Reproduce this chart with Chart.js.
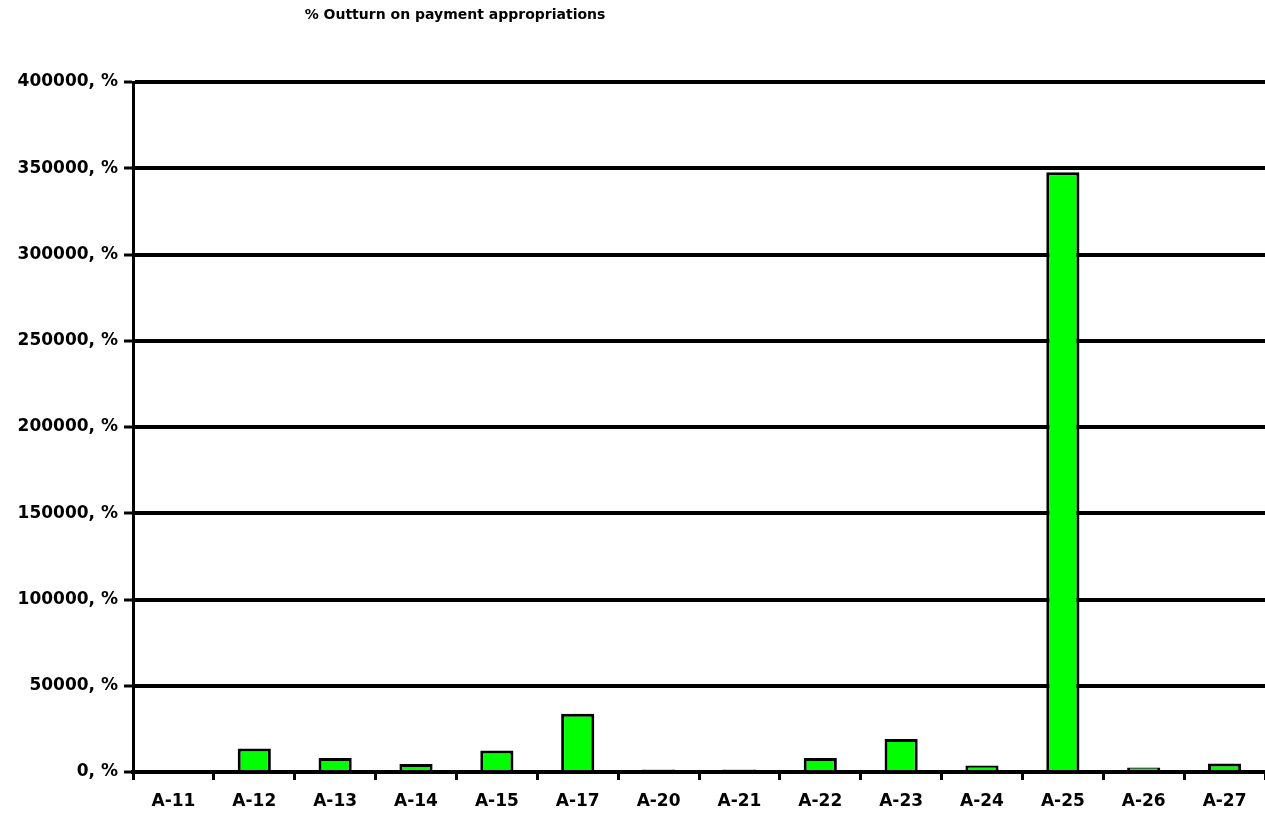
<!DOCTYPE html>
<html>
<head>
<meta charset="utf-8">
<script src="https://cdn.jsdelivr.net/npm/chart.js@4.4.0/dist/chart.umd.min.js"></script>
<style>
  html, body { margin: 0; padding: 0; background: #fff; overflow: hidden; }
  #wrap { width: 1265px; height: 824px; position: relative; }
</style>
</head>
<body>
<div id="wrap"><canvas id="c"></canvas></div>
<script>
// Budget lines and their outturn on payment appropriations (%)
const categories = ['A-11', 'A-12', 'A-13', 'A-14', 'A-15', 'A-17', 'A-20', 'A-21', 'A-22', 'A-23', 'A-24', 'A-25', 'A-26', 'A-27'];
const outturnPct = [0, 13600, 8100, 4600, 12500, 33700, 1500, 1400, 8100, 19200, 3800, 347700, 2600, 4900];
const yTicks = [0, 50000, 100000, 150000, 200000, 250000, 300000, 350000, 400000];
const chartTitle = '% Outturn on payment appropriations';

const FONT = '"DejaVu Sans", Arial, sans-serif';

// Small title drawn above the plot, left of centre
const titlePlugin = {
  id: 'topTitle',
  afterDraw(chart) {
    const ctx = chart.ctx;
    ctx.save();
    ctx.font = 'bold 14px ' + FONT;
    ctx.fillStyle = '#000';
    ctx.textAlign = 'center';
    ctx.textBaseline = 'middle';
    ctx.fillText(chartTitle, 455, 15);
    ctx.restore();
  }
};

new Chart(document.getElementById('c'), {
  type: 'bar',
  data: {
    labels: categories,
    datasets: [{
      data: outturnPct,
      backgroundColor: '#00ff00',
      borderColor: '#000000',
      borderWidth: 3,
      borderSkipped: 'bottom',
      barPercentage: 0.41,
      categoryPercentage: 1.0
    }]
  },
  options: {
    responsive: true,
    maintainAspectRatio: false,
    animation: false,
    layout: { padding: { top: 82, right: 0, bottom: 0, left: 0 } },
    plugins: {
      legend: { display: false },
      title: { display: false },
      tooltip: { enabled: false }
    },
    scales: {
      x: {
        offset: true,
        grid: {
          offset: true,
          drawOnChartArea: false,
          drawTicks: true,
          tickLength: 8,
          tickWidth: 3,
          tickColor: '#000'
        },
        border: { display: true, color: '#000', width: 4 },
        ticks: {
          color: '#000',
          padding: 11,
          maxRotation: 0,
          autoSkip: false,
          font: { family: FONT, size: 17, weight: 'bold' }
        },
        afterFit(scale) { scale.height = 52; }
      },
      y: {
        min: 0,
        max: 400000,
        afterBuildTicks(scale) { scale.ticks = yTicks.map(v => ({ value: v })); },
        grid: {
          color: '#000',
          lineWidth: 4,
          drawTicks: true,
          tickLength: 9,
          tickWidth: 3,
          tickColor: '#000'
        },
        border: { display: true, color: '#000', width: 3 },
        ticks: {
          color: '#000',
          padding: 6,
          font: { family: FONT, size: 17, weight: 'bold' },
          callback: v => v + ', %'
        },
        afterFit(scale) { scale.width = 133; }
      }
    }
  },
  plugins: [titlePlugin]
});
</script>
</body>
</html>
